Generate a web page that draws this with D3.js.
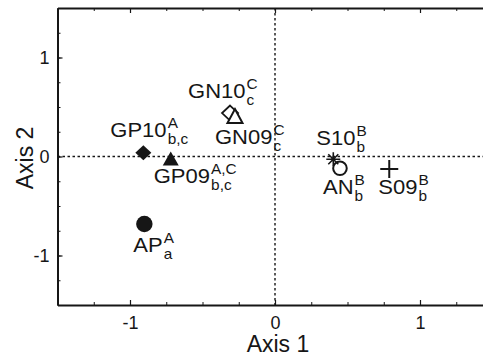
<!DOCTYPE html>
<html><head><meta charset="utf-8">
<script src="https://cdn.jsdelivr.net/npm/d3@7"></script>
<style>body{margin:0;background:#fff;}svg{display:block;font-family:"Liberation Sans",Arial,sans-serif;}</style>
</head><body>
<script>
// ---- data ----
const names  = ["GP10","GP09","GN10","GN09","AP","S10","AN","S09"];
const axis1  = [-0.908,-0.719,-0.31,-0.276,-0.901,0.402,0.448,0.788];
const axis2  = [0.038,-0.02,0.439,0.409,-0.682,-0.028,-0.119,-0.126];
const supTxt = ["A","A,C","C","C","A","B","B","B"];
const subTxt = ["b,c","b,c","c","c","a","b","b","b"];
const xTicks = [-1,0,1];
const yTicks = [-1,0,1];
const xTitle = "Axis 1", yTitle = "Axis 2";

// ---- styles (not data) ----
const markers = ["diamondFill","triFill","diamondOpen","triOpen","circleFill","asterisk","circleOpen","plus"];
const labelOff = [[-33,-16],[-17,25],[-42,-15],[-20,28],[-11,28],[-17,-14],[-17,26],[-11,25]];
const ink = "#161616";

const W=483,H=360;
const svg=d3.select("body").append("svg").attr("width",W).attr("height",H);
const x=d3.scaleLinear().domain([-1.5,1.5]).range([57.5,492.5]);
const y=d3.scaleLinear().domain([-1.5,1.5]).range([305,8]);

// zero reference lines
svg.append("line").attr("x1",x(0)).attr("x2",x(0)).attr("y1",y(1.5)).attr("y2",y(-1.5))
  .attr("stroke",ink).attr("stroke-width",1.4).attr("stroke-dasharray","2.5,2.5");
svg.append("line").attr("x1",x(-1.5)).attr("x2",x(1.5)).attr("y1",y(0)).attr("y2",y(0))
  .attr("stroke",ink).attr("stroke-width",1.4).attr("stroke-dasharray","2.5,2.5");

// axes
const minor = d3.range(-1.5,1.5001,0.25);
function styleAxis(g){g.select(".domain").attr("stroke",ink).attr("stroke-width",2);
  g.selectAll(".tick line").attr("stroke",ink).attr("stroke-width",1.2);
  g.selectAll(".tick text").attr("fill",ink).style("font-size","18px").style("font-family","'Liberation Sans',Arial,sans-serif");}
svg.append("g").attr("transform",`translate(0,${y(-1.5)})`).call(d3.axisBottom(x).tickValues(minor).tickSize(-3).tickSizeOuter(0).tickFormat(""))
  .call(g=>{g.select(".domain").remove();g.selectAll(".tick line").attr("stroke",ink);});
svg.append("g").attr("transform",`translate(0,${y(1.5)})`).call(d3.axisTop(x).tickValues(minor).tickSize(-3).tickSizeOuter(0).tickFormat(""))
  .call(g=>{g.select(".domain").remove();g.selectAll(".tick line").attr("stroke",ink);});
svg.append("g").attr("transform",`translate(${x(-1.5)},0)`).call(d3.axisLeft(y).tickValues(minor).tickSize(-3).tickSizeOuter(0).tickFormat(""))
  .call(g=>{g.select(".domain").remove();g.selectAll(".tick line").attr("stroke",ink);});
svg.append("g").attr("transform",`translate(0,${y(-1.5)})`)
  .call(d3.axisBottom(x).tickValues(xTicks).tickSize(-5).tickSizeOuter(0).tickPadding(11).tickFormat(d3.format("d")))
  .call(styleAxis);
svg.append("g").attr("transform",`translate(0,${y(1.5)})`)
  .call(d3.axisTop(x).tickValues(xTicks).tickSize(-5).tickSizeOuter(0).tickFormat(""))
  .call(styleAxis);
svg.append("g").attr("transform",`translate(${x(-1.5)},0)`)
  .call(d3.axisLeft(y).tickValues(yTicks).tickSize(-5).tickSizeOuter(0).tickPadding(8).tickFormat(d3.format("d")))
  .call(styleAxis);
svg.selectAll(".tick text").text(function(){return this.textContent.replace("\u2212","-");});

// titles
svg.append("text").attr("x",278).attr("y",352).attr("text-anchor","middle").attr("fill",ink)
  .style("font-size","23px").text(xTitle);
svg.append("text").attr("transform",`translate(33,158) rotate(-90)`).attr("text-anchor","middle").attr("fill",ink)
  .style("font-size","23px").text(yTitle);

// markers
const pts = names.map((n,i)=>({n,x:x(axis1[i]),y:y(axis2[i]),m:markers[i],i}));
const mg = svg.append("g");
pts.forEach(p=>{
  const g=mg.append("g").attr("transform",`translate(${p.x},${p.y})`);
  if(p.m==="diamondFill") g.append("path").attr("d","M0,-7.5L8,0L0,7.5L-8,0Z").attr("fill",ink);
  if(p.m==="diamondOpen") g.append("path").attr("d","M0,-7.5L8,0L0,7.5L-8,0Z").attr("fill","none").attr("stroke",ink).attr("stroke-width",1.8);
  if(p.m==="triFill") g.append("path").attr("d","M0,-7L8,7L-8,7Z").attr("fill",ink);
  if(p.m==="triOpen") g.append("path").attr("d","M0,-7L7.5,7L-7.5,7Z").attr("fill","#fff").attr("stroke",ink).attr("stroke-width",2);
  if(p.m==="circleFill") g.append("circle").attr("r",8.2).attr("fill",ink);
  if(p.m==="circleOpen") g.append("circle").attr("r",6.8).attr("fill","none").attr("stroke",ink).attr("stroke-width",2);
  if(p.m==="plus") g.append("path").attr("d","M-9,0H9M0,-9V9").attr("stroke",ink).attr("stroke-width",2);
  if(p.m==="asterisk") g.append("path").attr("d","M-7,0H7M0,-7V7M-5,-5L5,5M-5,5L5,-5").attr("stroke",ink).attr("stroke-width",1.6);
});

// labels (main text + superscript + subscript)
pts.forEach(p=>{
  const [dx,dy]=labelOff[p.i];
  const g=svg.append("g").attr("transform",`translate(${p.x+dx},${p.y+dy}) scale(1.1,1)`);
  const t=g.append("text").attr("x",0).attr("y",0).attr("fill",ink).style("font-size","20px").text(p.n);
  const w=t.node().getComputedTextLength();
  g.append("text").attr("x",w+1).attr("y",-9).attr("fill",ink).style("font-size","14px").text(supTxt[p.i]);
  g.append("text").attr("x",w+1).attr("y",7).attr("fill",ink).style("font-size","14px").text(subTxt[p.i]);
});
</script>
</body></html>
